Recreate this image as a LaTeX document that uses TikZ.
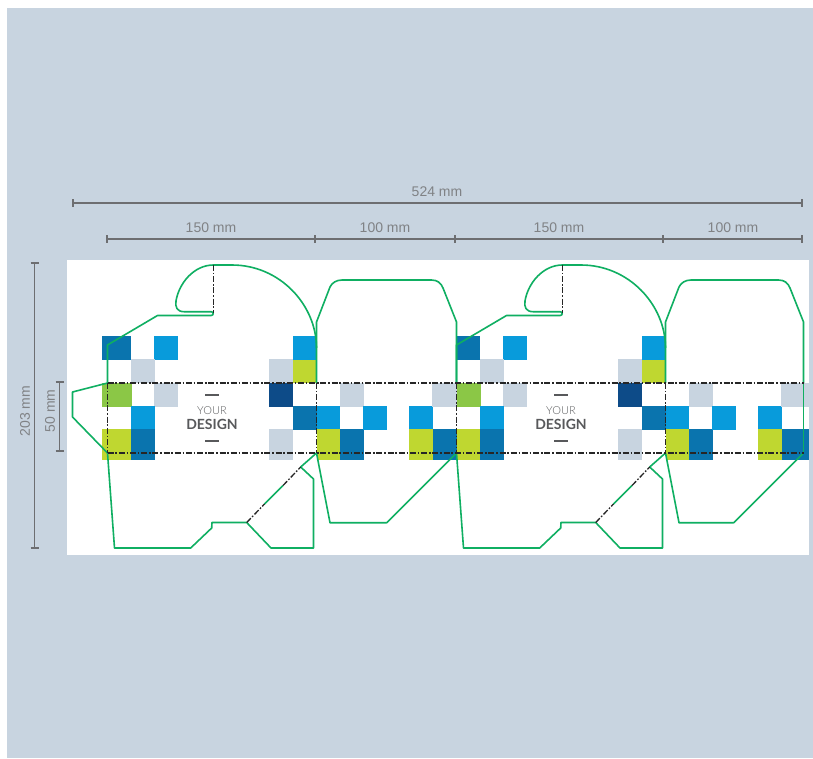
\documentclass[tikz,border=0pt]{standalone}
\usepackage{fontspec}
\setmainfont{Liberation Sans}
\newfontfamily\latofont{Lato}
\newfontfamily\latolight{Lato Light}
\definecolor{bgc}{HTML}{C8D4E0}
\definecolor{cutc}{HTML}{0FAF62}
\definecolor{dimc}{HTML}{6D6E71}
\definecolor{dimt}{HTML}{808285}
\definecolor{txtc}{HTML}{58595B}
\definecolor{dk}{HTML}{0A74AE}
\definecolor{lb}{HTML}{089BDB}
\definecolor{gy}{HTML}{C8D4E0}
\definecolor{lm}{HTML}{BFD730}
\definecolor{gn}{HTML}{8BC746}
\definecolor{nv}{HTML}{0D4B88}
\tikzset{
  cutline/.style={draw=cutc,line width=1.6pt,line join=round},
  foldline/.style={draw=black!85,line width=1.3pt,dash pattern=on 6pt off 1.8pt on 1.6pt off 1.8pt},
  dimline/.style={draw=dimc,line width=1.5pt},
  dimlabel/.style={text=dimt,font=\fontsize{14}{16}\selectfont,inner sep=0pt},
  ylabel/.style={text=txtc,inner sep=0pt,font=\latolight\fontsize{11}{13}\selectfont},
  dlabel/.style={text=txtc,inner sep=0pt,font=\latofont\bfseries\fontsize{14}{16}\selectfont},
}
\newcommand{\sq}[5]{\fill[#1] (#2,#3) rectangle (#4,#5);}
\begin{document}
\begin{tikzpicture}[x=1pt,y=-1pt]
\useasboundingbox (0,0) rectangle (813,758);
\fill[bgc] (7,8) rectangle (813,758);
\fill[white] (67,260) rectangle (809,555);

% artwork squares: one repeat = 349 wide
\foreach \o/\l in {0/102,349/107.5}{
\begin{scope}[xshift=\o pt]
\sq{dk}{\l}{336}{131}{360}
\sq{lb}{154}{336}{178}{360}
\sq{gy}{131}{359}{155}{383}
\sq{gn}{\l}{383}{132}{407}
\sq{gy}{154}{383}{178}{407}
\sq{lb}{131}{406}{155}{430}
\sq{lm}{\l}{429}{131}{460}
\sq{dk}{131}{429}{155}{460}
\sq{gy}{269}{359}{293}{383}
\sq{lb}{293}{336}{317}{360}
\sq{lm}{293}{360}{317}{383}
\sq{nv}{269}{383}{293}{407}
\sq{dk}{293}{406}{317}{430}
\sq{gy}{269}{429}{293}{460}
\sq{lb}{317}{406}{340}{430}
\sq{lm}{317}{429}{340}{460}
\sq{dk}{340}{429}{364}{460}
\sq{gy}{340}{383}{364}{407}
\sq{lb}{363}{406}{387}{430}
\sq{lb}{409}{406}{433}{430}
\sq{lm}{409}{429}{433}{460}
\end{scope}}
\sq{gy}{432}{383}{456.5}{407}
\sq{dk}{433}{429}{456.5}{460}
\sq{gy}{781}{383}{809}{407}
\sq{dk}{782}{429}{809}{460}

% cut lines
\foreach \o/\w in {0/0,349/2}{
\begin{scope}[xshift=\o pt]
\draw[cutline] (107.5,383) -- (107.5,345) -- (157.5,315.5) -- (211,315.5)
  .. controls (214,315.5) and (214,311.7) .. (211,311.7) -- (184,311.7)
  .. controls (177,311.7) and (175,307) .. (176,301)
  .. controls (179,283) and (194,265) .. (213.5,265) -- (232,265)
  .. controls (280,265) and (316.5,305) .. (316.5,348);
\draw[cutline] (107.5,453)
  -- (114.5,548) -- (190.7,548) -- (211.7,528) -- (212,522.5) -- (246.7,522.5)
  -- (271,548) -- (313.5,548) -- (313.5,479) -- (300.7,467) -- (316.5,453);
\draw[cutline] (316.5,383) -- (316.5,322) -- (330,287)
  .. controls (332,283) and (336,280) .. (342,280) -- (431.5-\w,280)
  .. controls (437.5-\w,280) and (441-\w,283) .. (443-\w,288) -- (456.5-\w,322) -- (456.5-\w,383);
\draw[cutline] (316.5,453) -- (330,522.7) -- (386.7-\w,522.7) -- (456.5-\w,453);
\coordinate (ca) at (264.5,504);
\coordinate (cb) at (283,485.5);
\draw[cutline] (ca) -- (cb);
\end{scope}}
\draw[cutline] (107.5,383) -- (72.5,392) -- (72.5,417) -- (107.5,453);
\draw[cutline] (803.5,383) -- (803.5,453);

% fold lines
\foreach \o in {0,349}{
\begin{scope}[xshift=\o pt]
\coordinate (fa) at (213.5,265);
\coordinate (fb) at (213.5,313);
\coordinate (fc) at (246.7,522.5);
\coordinate (fd) at (264.5,504);
\coordinate (fe) at (283,485.5);
\coordinate (ff) at (300.7,467);
\coordinate (ga) at (107.5,383);
\coordinate (gb) at (107.5,453);
\coordinate (gc) at (316.5,383);
\coordinate (gd) at (316.5,453);
\draw[foldline] (fa) -- (fb);
\draw[foldline] (fc) -- (fd);
\draw[foldline] (fe) -- (ff);
\draw[foldline] (ga) -- (gb);
\draw[foldline] (gc) -- (gd);
\end{scope}}
\coordinate (ha) at (107.5,383);
\coordinate (hb) at (803.5,383);
\coordinate (hc) at (107.5,453);
\coordinate (hd) at (803.5,453);
\draw[foldline] (ha) -- (hb);
\draw[foldline] (hc) -- (hd);

% dimensions
\coordinate (d1) at (73,203); \coordinate (d2) at (802,203);
\draw[dimline] (d1) -- (d2);
\foreach \x in {73,802}{\draw[dimline] (\x,199) -- (\x,207);}
\coordinate (e1) at (107,239); \coordinate (e2) at (802,239);
\draw[dimline] (e1) -- (e2);
\foreach \x in {107,315,455,663,802}{\draw[dimline] (\x,235) -- (\x,243);}
\coordinate (l1) at (34.5,263); \coordinate (l2) at (34.5,548);
\draw[dimline] (l1) -- (l2);
\foreach \y in {263,548}{\draw[dimline] (30.5,\y) -- (38.5,\y);}
\coordinate (m1) at (59.5,382); \coordinate (m2) at (59.5,451);
\draw[dimline] (m1) -- (m2);
\foreach \y in {382,451}{\draw[dimline] (55.5,\y) -- (63.5,\y);}

\node[dimlabel] (t524) at (437,191.5) {524 mm};
\node[dimlabel] (t150a) at (211,227.5) {150 mm};
\node[dimlabel] (t100a) at (385,227.5) {100 mm};
\node[dimlabel] (t150b) at (559,227.5) {150 mm};
\node[dimlabel] (t100b) at (733,227.5) {100 mm};
\node[dimlabel,rotate=90] (t203) at (25,411) {203 mm};
\node[dimlabel,rotate=90] (t50) at (50,411) {50 mm};

% design text
\foreach \o/\n in {0/a,349/b}{
\begin{scope}[xshift=\o pt]
\draw[txtc,line width=1.8pt] (205,394.7) -- (219,394.7);
\draw[txtc,line width=1.8pt] (205,441) -- (219,441);
\node[ylabel] (your\n) at (212,410.5) {YOUR};
\node[dlabel] (des\n) at (212,424.5) {DESIGN};
\end{scope}}
\end{tikzpicture}
\end{document}
